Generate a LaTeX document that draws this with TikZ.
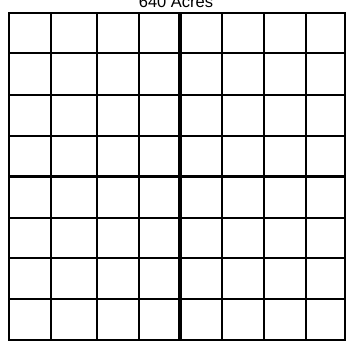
\documentclass[tikz,border=0pt]{standalone}
\usepackage{fontspec}
\setmainfont{Liberation Sans}
\begin{document}
\begin{tikzpicture}[x=1pt,y=-1pt,
  thinline/.style={line width=1.3pt},
  frameline/.style={line width=2pt},
  crossline/.style={line width=3.8pt},
  titletext/.style={font=\fontsize{16.5}{18}\selectfont, anchor=base, inner sep=0pt}]
\useasboundingbox (0,0) rectangle (347,343);
% thin grid lines
\foreach \x in {51,97,139,222,264,306} \draw[thinline] (\x,13) -- (\x,340);
\foreach \y in {53,95,136,218,258,299} \draw[thinline] (9,\y) -- (345,\y);
% centre cross
\draw[crossline] (180,13) -- (180,340);
\draw[crossline] (9,176.5) -- (345,176.5);
% frame
\draw[frameline] (9,13) rectangle (345,340);
\node[titletext] (title) at (176,7.5) {640 Acres};
\end{tikzpicture}
\end{document}
